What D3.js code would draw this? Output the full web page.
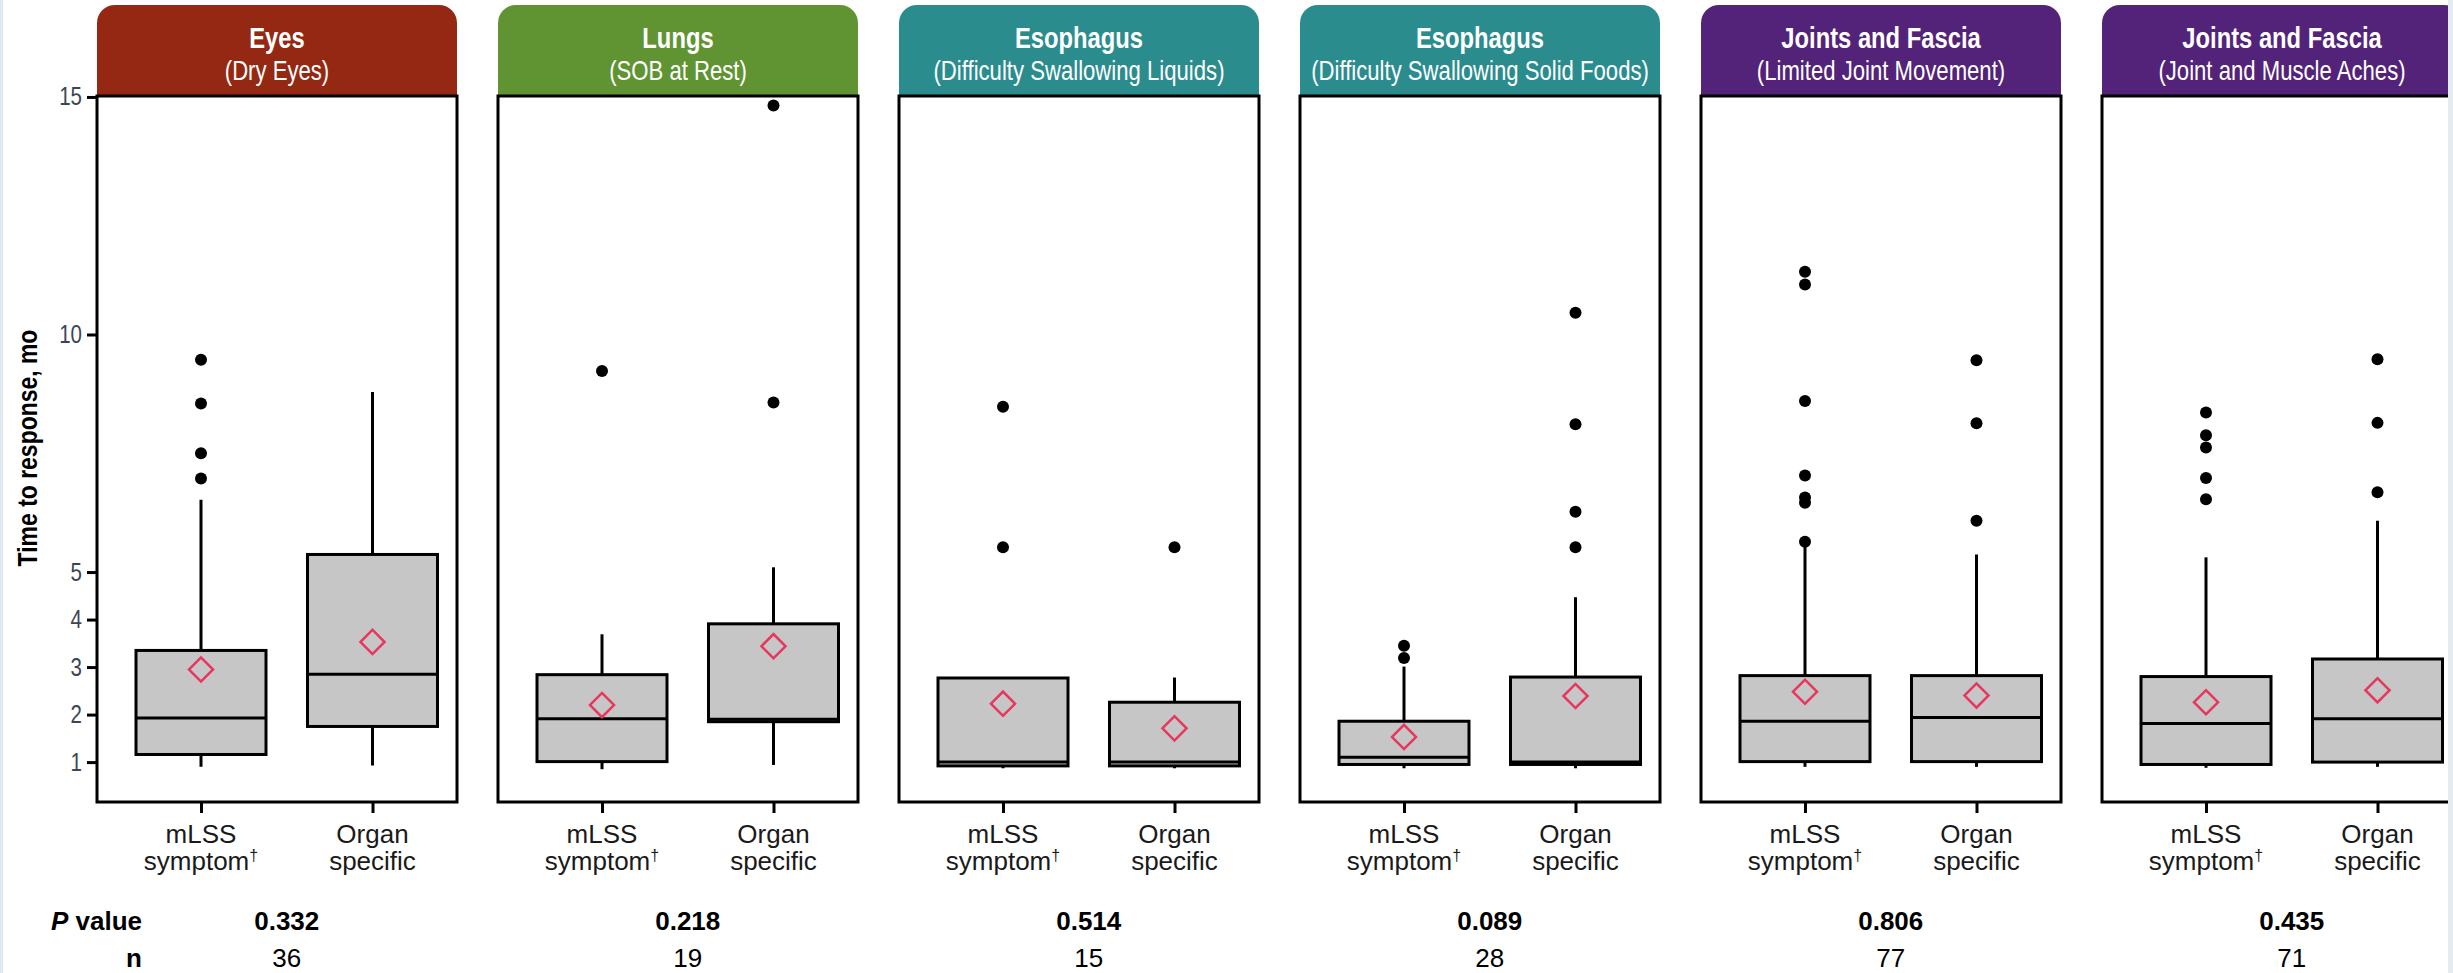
<!DOCTYPE html>
<html>
<head>
<meta charset="utf-8">
<script src="https://cdn.jsdelivr.net/npm/d3@7"></script>
<style>
  html, body { margin: 0; padding: 0; background: #fff; }
  svg { display: block; }
</style>
</head>
<body>
<svg id="chart" width="2453" height="973"></svg>
<script>
// ---- data -------------------------------------------------------------
const panelTitles = ["Eyes", "Lungs", "Esophagus", "Esophagus", "Joints and Fascia", "Joints and Fascia"];
const panelSubtitles = ["(Dry Eyes)", "(SOB at Rest)", "(Difficulty Swallowing Liquids)",
  "(Difficulty Swallowing Solid Foods)", "(Limited Joint Movement)", "(Joint and Muscle Aches)"];
const headerColors = ["#952812", "#609432", "#2b8c8e", "#2b8c8e", "#522378", "#522378"];
const groups = ["mLSS", "Organ"];
const groupLabels = [["mLSS", "symptom", "\u2020"], ["Organ", "specific", ""]];
const pValues = ["0.332", "0.218", "0.514", "0.089", "0.806", "0.435"];
const nValues = ["36", "19", "15", "28", "77", "71"];
const yTicks = [1, 2, 3, 4, 5, 10, 15];

// box statistics per panel, each entry is [mLSS symptom, organ specific]
const whiskerLow = [[0.90, 0.93], [0.85, 0.94], [0.87, 0.87], [0.87, 0.87], [0.90, 0.90], [0.88, 0.90]];
const q1 =         [[1.16, 1.75], [1.01, 1.85], [0.92, 0.92], [0.95, 0.95], [1.01, 1.01], [0.95, 1.00]];
const median =     [[1.93, 2.85], [1.91, 1.90], [1.00, 1.00], [1.10, 1.00], [1.86, 1.94], [1.81, 1.91]];
const q3 =         [[3.35, 5.37], [2.84, 3.91], [2.77, 2.26], [1.86, 2.79], [2.82, 2.82], [2.80, 3.17]];
const whiskerHigh =[[6.52, 8.79], [3.69, 5.10], [2.77, 2.78], [3.01, 4.47], [5.56, 5.37], [5.31, 6.08]];
const means =      [[2.95, 3.53], [2.20, 3.44], [2.23, 1.71], [1.53, 2.39], [2.48, 2.40], [2.26, 2.51]];
const outliers = [
  [[9.47, 8.55, 7.50, 6.97], []],
  [[9.23], [14.82, 8.57]],
  [[8.48, 5.52], [5.52]],
  [[3.45, 3.19], [10.46, 8.11, 6.27, 5.52]],
  [[11.32, 11.05, 8.60, 7.03, 6.57, 6.46, 5.64], [9.46, 8.13, 6.08]],
  [[8.36, 7.88, 7.62, 6.98, 6.53], [9.48, 8.14, 6.68]]
];

// ---- layout -----------------------------------------------------------
const font = "'Liberation Sans',Arial,sans-serif";
const squeeze = 0.82;           // horizontal compression for the condensed lettering
const plotTop = 96, plotBottom = 802, headerTop = 5;
const panelW = 360, panelStep = 401, firstLeft = 97;
const boxW = 130, cornerR = 18;

const svg = d3.select("#chart");

const y = d3.scaleLinear().domain([0.16, 15.02]).range([plotBottom, plotTop]);
const x = d3.scalePoint().domain(groups).range([104, 275.5]);

// condensed text: placed at (px, py), squeezed horizontally around its anchor
function condensed(parent, px, py, str, size, weight, fill, anchor) {
  return parent.append("g")
    .attr("transform", `translate(${px},${py}) scale(${squeeze},1)`)
    .append("text")
    .attr("text-anchor", anchor || "middle").attr("fill", fill)
    .style("font-family", font).style("font-size", size + "px")
    .style("font-weight", weight)
    .text(str);
}

panelTitles.forEach((title, i) => {
  const g = svg.append("g").attr("transform", `translate(${firstLeft + i * panelStep},0)`);

  // coloured header with rounded top corners
  const hp = d3.path();
  hp.moveTo(0, plotTop);
  hp.lineTo(0, headerTop + cornerR);
  hp.arcTo(0, headerTop, cornerR, headerTop, cornerR);
  hp.lineTo(panelW - cornerR, headerTop);
  hp.arcTo(panelW, headerTop, panelW, headerTop + cornerR, cornerR);
  hp.lineTo(panelW, plotTop);
  hp.closePath();
  g.append("path").attr("d", hp.toString()).attr("fill", headerColors[i]);

  condensed(g, panelW / 2, 48, title, 29, "bold", "#fff");
  condensed(g, panelW / 2, 80, panelSubtitles[i], 27, "normal", "#fff");

  // plot frame
  g.append("rect").attr("x", 0).attr("y", plotTop)
    .attr("width", panelW).attr("height", plotBottom - plotTop)
    .attr("fill", "#fff").attr("stroke", "#000").attr("stroke-width", 3);

  groups.forEach((grp, j) => {
    const cx = x(grp);
    // whisker
    g.append("line").attr("x1", cx).attr("x2", cx)
      .attr("y1", y(whiskerLow[i][j])).attr("y2", y(whiskerHigh[i][j]))
      .attr("stroke", "#000").attr("stroke-width", 3);
    // box
    g.append("rect").attr("x", cx - boxW / 2).attr("y", y(q3[i][j]))
      .attr("width", boxW).attr("height", y(q1[i][j]) - y(q3[i][j]))
      .attr("fill", "#c6c6c6").attr("stroke", "#000").attr("stroke-width", 3);
    // median
    g.append("line").attr("x1", cx - boxW / 2).attr("x2", cx + boxW / 2)
      .attr("y1", y(median[i][j])).attr("y2", y(median[i][j]))
      .attr("stroke", "#000").attr("stroke-width", 3);
    // outliers
    g.selectAll(null).data(outliers[i][j]).join("circle")
      .attr("cx", cx).attr("cy", d => y(d)).attr("r", 6).attr("fill", "#000");
    // mean marker
    g.append("path")
      .attr("d", d3.symbol(d3.symbolSquare, 290)())
      .attr("transform", `translate(${cx},${y(means[i][j])}) rotate(45)`)
      .attr("fill", "none").attr("stroke", "#e8375f").attr("stroke-width", 2.5);
  });

  // category axis
  const xa = g.append("g").attr("transform", `translate(0,${plotBottom})`)
    .call(d3.axisBottom(x).tickSize(11).tickFormat(""));
  xa.select(".domain").remove();
  xa.selectAll(".tick line").attr("stroke", "#000").attr("stroke-width", 3);

  groups.forEach((grp, j) => {
    const t = g.append("text").attr("text-anchor", "middle").attr("fill", "#1a1a1a")
      .style("font-family", font).style("font-size", "26px");
    t.append("tspan").attr("x", x(grp)).attr("y", 843).text(groupLabels[j][0]);
    t.append("tspan").attr("x", x(grp)).attr("y", 870).text(groupLabels[j][1]);
    if (groupLabels[j][2]) {
      t.append("tspan").attr("dy", -9).style("font-size", "16px").text(groupLabels[j][2]);
    }
  });

  const mid = (x(groups[0]) + x(groups[1])) / 2;
  g.append("text").attr("x", mid).attr("y", 930).attr("text-anchor", "middle")
    .style("font-family", font).style("font-weight", "bold").style("font-size", "26px")
    .text(pValues[i]);
  g.append("text").attr("x", mid).attr("y", 967).attr("text-anchor", "middle")
    .style("font-family", font).style("font-size", "26px")
    .text(nValues[i]);
});

// value axis
const ya = svg.append("g").attr("transform", `translate(${firstLeft},0)`)
  .call(d3.axisLeft(y).tickValues(yTicks).tickSize(10).tickPadding(5));
ya.select(".domain").remove();
ya.selectAll(".tick line").attr("stroke", "#000").attr("stroke-width", 3);
ya.selectAll(".tick text")
  .attr("x", -15 / squeeze)
  .attr("transform", `scale(${squeeze},1)`)
  .attr("fill", "#3a4656")
  .style("font-family", font).style("font-size", "25px");

svg.append("g").attr("transform", "translate(37,448) rotate(-90) scale(" + squeeze + ",1)")
  .append("text").attr("text-anchor", "middle").attr("fill", "#000")
  .style("font-family", font).style("font-weight", "bold").style("font-size", "28px")
  .text("Time to response, mo");

// row labels under the panels
const pl = svg.append("text").attr("x", 142).attr("y", 930).attr("text-anchor", "end")
  .style("font-family", font).style("font-weight", "bold").style("font-size", "26px");
pl.append("tspan").style("font-style", "italic").text("P");
pl.append("tspan").text(" value");
svg.append("text").attr("x", 142).attr("y", 967).attr("text-anchor", "end")
  .style("font-family", font).style("font-weight", "bold").style("font-size", "26px")
  .text("n");

// thin page edges
svg.append("rect").attr("x", 0).attr("y", 0).attr("width", 3).attr("height", 973).attr("fill", "#dfe9f1");
svg.append("rect").attr("x", 2448).attr("y", 0).attr("width", 5).attr("height", 973).attr("fill", "#e4ebf1");
</script>
</body>
</html>
